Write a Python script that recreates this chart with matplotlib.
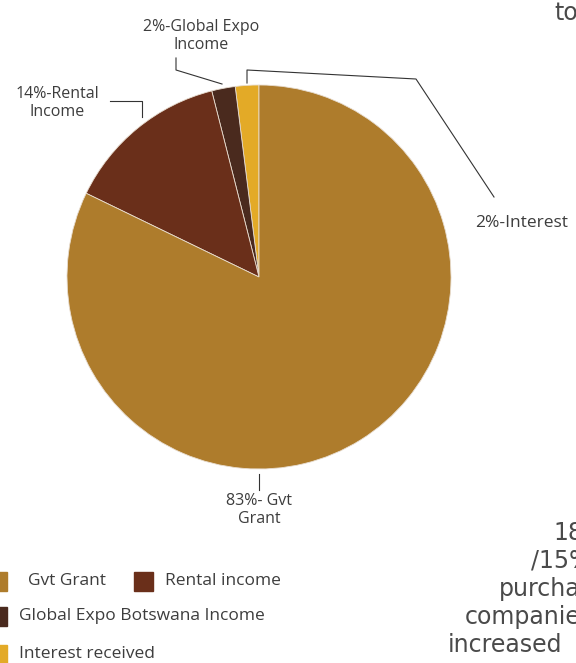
import numpy as np
import matplotlib.pyplot as plt
from matplotlib.patches import Rectangle

# Income sources (share of total, %)
fuentes = ['Interest received', 'Global Expo Botswana Income', 'Rental income', 'Gvt Grant']
valores = [2, 2, 14, 83]
colores = ['#E3AA27', '#4A2A1E', '#6A2F1A', '#AE7C2C']

etiquetas = ['2%-Interest', '2%-Global Expo\nIncome', '14%-Rental\nIncome', '83%- Gvt\nGrant']

# Orden de la leyenda
leyenda = ['Gvt Grant', 'Rental income', 'Global Expo Botswana Income', 'Interest received']

texto_gris = '#3d3d3d'
W, H = 576, 663

fig = plt.figure(figsize=(W/100, H/100), dpi=100)

# eje de la tarta, en pixeles de la figura
cx, cy, r = 259, 277, 192
ax = fig.add_axes([(cx-r)/W, 1-(cy+r)/H, 2*r/W, 2*r/H])
ax.pie(valores, colors=colores, startangle=90, counterclock=True,
       radius=1, wedgeprops=dict(edgecolor='#e8ddd0', linewidth=0.6))
ax.set_xlim(-1, 1)
ax.set_ylim(-1, 1)
ax.set_aspect('auto')
ax.axis('off')

# capa superior en pixeles para etiquetas y lineas guia
ov = fig.add_axes([0, 0, 1, 1])
ov.set_xlim(0, W)
ov.set_ylim(H, 0)
ov.axis('off')

fnt = 'Open Sans'
fs = 11.5
ov.text(57, 103, etiquetas[2], ha='center', va='center', fontsize=fs,
        family=fnt, color=texto_gris, linespacing=1.15)
ov.plot([110, 142, 142], [101, 101, 117], color='#333333', lw=0.8)

ov.text(201, 36, etiquetas[1], ha='center', va='center', fontsize=fs,
        family=fnt, color=texto_gris, linespacing=1.15)
ov.plot([176, 176, 222], [58, 70, 84], color='#333333', lw=0.8)

ov.plot([247, 247, 416, 494], [83, 70, 79, 197], color='#333333', lw=0.8)
ov.text(475, 223, etiquetas[0], ha='left', va='center', fontsize=12.5,
        family=fnt, color=texto_gris)

ov.plot([259, 259], [474, 490], color='#333333', lw=0.8)
ov.text(259, 510, etiquetas[3], ha='center', va='center', fontsize=fs,
        family=fnt, color=texto_gris, linespacing=1.15)

# leyenda
items = [(0, 581, 28), (134, 581, 165), (0, 616, 19), (0, 654, 19)]
for nombre, (sx, sy, tx) in zip(leyenda, items):
    c = colores[fuentes.index(nombre)]
    x0 = sx if sx > 0 else -12
    ov.add_patch(Rectangle((x0, sy-9.5), 19, 19, color=c, clip_on=False))
    ov.text(tx, sy, nombre, ha='left', va='center', fontsize=12.5,
            family=fnt, color=texto_gris)

# texto de la columna vecina (cortado por el borde)
col = [('to', 554, 13), ('18', 553, 533), ('/15%', 531, 561),
       ('purcha', 499, 589), ('companie', 465, 617), ('increased', 448, 645)]
for t, x, y in col:
    ov.text(x, y, t, ha='left', va='center', fontsize=17, family='DejaVu Sans',
            color='#4a4a4a')

fig.savefig('out.png', dpi=100)
